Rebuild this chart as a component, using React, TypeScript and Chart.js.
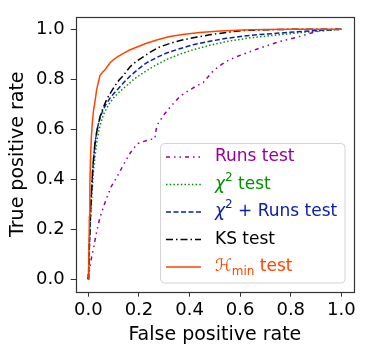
import React, { useEffect, useRef } from 'react';
import { Chart, registerables } from 'chart.js';

Chart.register(...registerables);

// ---- data ----
const AXIS_TICKS = [0, 0.2, 0.4, 0.6, 0.8, 1.0];
const X_TITLE = 'False positive rate';
const Y_TITLE = 'True positive rate';

const RUNS_FPR = [0, 0.003, 0.007, 0.013, 0.02, 0.026, 0.035, 0.046, 0.06, 0.073, 0.09, 0.118, 0.14, 0.165, 0.18, 0.197, 0.215, 0.237, 0.263, 0.268, 0.275, 0.3, 0.329, 0.36, 0.395, 0.425, 0.454, 0.493, 0.52, 0.546, 0.585, 0.625, 0.67, 0.717, 0.76, 0.809, 0.85, 0.901, 0.95, 1.0];
const RUNS_TPR = [0, 0.03, 0.05, 0.089, 0.12, 0.155, 0.2, 0.247, 0.29, 0.326, 0.37, 0.418, 0.46, 0.504, 0.525, 0.543, 0.55, 0.557, 0.563, 0.6, 0.622, 0.66, 0.695, 0.73, 0.754, 0.772, 0.787, 0.833, 0.855, 0.872, 0.89, 0.905, 0.922, 0.938, 0.952, 0.964, 0.976, 0.991, 0.997, 1.0];

const CHI_FPR = [0, 0.003, 0.006, 0.01, 0.015, 0.02, 0.026, 0.035, 0.046, 0.06, 0.08, 0.099, 0.125, 0.151, 0.18, 0.217, 0.26, 0.309, 0.36, 0.414, 0.48, 0.546, 0.64, 0.744, 0.85, 0.93, 1.0];
const CHI_TPR = [0, 0.09, 0.18, 0.27, 0.35, 0.43, 0.49, 0.56, 0.615, 0.66, 0.698, 0.725, 0.752, 0.774, 0.8, 0.826, 0.853, 0.879, 0.9, 0.918, 0.936, 0.951, 0.966, 0.977, 0.988, 0.995, 1.0];

const CHIRUNS_FPR = [0, 0.003, 0.006, 0.01, 0.014, 0.018, 0.023, 0.03, 0.04, 0.055, 0.07, 0.086, 0.1, 0.118, 0.14, 0.165, 0.2, 0.23, 0.27, 0.309, 0.36, 0.414, 0.48, 0.546, 0.64, 0.744, 0.85, 0.93, 1.0];
const CHIRUNS_TPR = [0, 0.1, 0.2, 0.3, 0.38, 0.45, 0.51, 0.57, 0.625, 0.67, 0.7, 0.725, 0.742, 0.762, 0.787, 0.813, 0.843, 0.866, 0.887, 0.905, 0.922, 0.938, 0.952, 0.964, 0.976, 0.984, 0.992, 0.997, 1.0];

const KS_FPR = [0, 0.003, 0.006, 0.01, 0.014, 0.018, 0.022, 0.027, 0.033, 0.046, 0.06, 0.073, 0.09, 0.105, 0.12, 0.138, 0.165, 0.19, 0.217, 0.25, 0.283, 0.33, 0.375, 0.43, 0.48, 0.55, 0.61, 0.7, 0.8, 0.9, 1.0];
const KS_TPR = [0, 0.1, 0.2, 0.3, 0.38, 0.45, 0.5, 0.55, 0.59, 0.65, 0.69, 0.72, 0.75, 0.774, 0.795, 0.815, 0.85, 0.872, 0.89, 0.912, 0.93, 0.946, 0.958, 0.969, 0.978, 0.988, 0.995, 0.998, 1.0, 1.0, 1.0];

const HMIN_FPR = [0, 0.002, 0.004, 0.006, 0.009, 0.012, 0.016, 0.021, 0.026, 0.033, 0.04, 0.046, 0.056, 0.066, 0.086, 0.1, 0.118, 0.14, 0.165, 0.2, 0.23, 0.27, 0.322, 0.38, 0.44, 0.52, 0.61, 0.7, 0.8, 0.9, 1.0];
const HMIN_TPR = [0, 0.1, 0.25, 0.38, 0.5, 0.57, 0.63, 0.68, 0.71, 0.76, 0.79, 0.815, 0.828, 0.838, 0.866, 0.879, 0.892, 0.905, 0.918, 0.932, 0.944, 0.957, 0.971, 0.98, 0.987, 0.993, 0.997, 0.999, 1.0, 1.0, 1.0];

const SERIES_LABELS = ['Runs test', 'χ2 test', 'χ2 + Runs test', 'KS test', 'ℋmin test'];

type Seg = { t: string; italic?: boolean; sup?: boolean; sub?: boolean };
const LEGEND_TEXT: Seg[][] = [
  [{ t: 'Runs test' }],
  [{ t: 'χ', italic: true }, { t: '2', sup: true }, { t: ' test' }],
  [{ t: 'χ', italic: true }, { t: '2', sup: true }, { t: ' + Runs test' }],
  [{ t: 'KS test' }],
  [{ t: 'ℋ' }, { t: 'min', sub: true }, { t: ' test' }],
];

// ---- styles ----
const COLORS = ['#990099', '#009000', '#0a22a8', '#000000', '#ff4500'];
const DASHES = [[4, 4, 1.5, 4, 1.5, 4], [1.5, 2.2], [5, 2.5], [7, 3, 1.5, 3], []];
const FONT = '"DejaVu Sans", sans-serif';

const zip = (xs: number[], ys: number[]) => xs.map((x, i) => ({ x, y: ys[i] }));
const SERIES = [
  zip(RUNS_FPR, RUNS_TPR),
  zip(CHI_FPR, CHI_TPR),
  zip(CHIRUNS_FPR, CHIRUNS_TPR),
  zip(KS_FPR, KS_TPR),
  zip(HMIN_FPR, HMIN_TPR),
];

const framePlugin = {
  id: 'frame',
  afterDatasetsDraw(chart: any) {
    const { ctx, chartArea: a } = chart;
    ctx.save();
    ctx.strokeStyle = '#333';
    ctx.lineWidth = 1.2;
    ctx.setLineDash([]);
    ctx.strokeRect(Math.round(a.left) + 0.5, Math.round(a.top) + 0.5, Math.round(a.right - a.left), Math.round(a.bottom - a.top));
    ctx.restore();
  },
};

const legendPlugin = {
  id: 'insideLegend',
  afterDraw(chart: any) {
    const ctx = chart.ctx;
    const x0 = 160.5, y0 = 143.5, x1 = 345, y1 = 283;
    ctx.save();
    ctx.beginPath();
    (ctx as any).roundRect(x0, y0, x1 - x0, y1 - y0, 4);
    ctx.fillStyle = 'rgba(255,255,255,0.85)';
    ctx.fill();
    ctx.strokeStyle = '#d4d4d4';
    ctx.lineWidth = 1;
    ctx.stroke();
    LEGEND_TEXT.forEach((segs, i) => {
      const y = 157 + i * 27.5;
      ctx.beginPath();
      ctx.setLineDash(DASHES[i]);
      ctx.strokeStyle = COLORS[i];
      ctx.lineWidth = 1.5;
      ctx.moveTo(166, y);
      ctx.lineTo(201, y);
      ctx.stroke();
      ctx.setLineDash([]);
      ctx.fillStyle = COLORS[i];
      ctx.textBaseline = 'middle';
      ctx.textAlign = 'left';
      let x = 215;
      segs.forEach((s) => {
        const size = s.sup || s.sub ? 12 : 17;
        ctx.font = `${s.italic ? 'italic ' : ''}${size}px ${FONT}`;
        const dy = s.sup ? -7 : s.sub ? 5 : 0;
        ctx.fillText(s.t, x, y + dy);
        x += ctx.measureText(s.t).width;
      });
    });
    ctx.restore();
  },
};

const axisCommon = (title: string, isX: boolean) => ({
  type: 'linear' as const,
  min: -0.05,
  max: 1.05,
  afterBuildTicks: (scale: any) => {
    scale.ticks = AXIS_TICKS.map((v) => ({ value: v }));
  },
  afterFit: (scale: any) => {
    if (isX) scale.height = 63.3;
    else scale.width = 75.7;
  },
  grid: {
    drawOnChartArea: false,
    drawTicks: true,
    tickLength: 5,
    color: '#333',
    lineWidth: 1,
  },
  border: { display: false },
  ticks: {
    color: '#000',
    font: { family: FONT, size: 18 },
    padding: isX ? 3 : 6,
    maxRotation: 0,
    autoSkip: false,
    callback: (v: any) => Number(v).toFixed(1),
  },
  title: {
    display: true,
    text: title,
    color: '#000',
    font: { family: FONT, size: 19 },
    padding: isX ? { top: 0, bottom: 9 } : { top: 7, bottom: 0 },
  },
});

export default function App() {
  const ref = useRef<HTMLCanvasElement>(null);
  useEffect(() => {
    document.body.style.margin = '0';
    const chart = new Chart(ref.current!, {
      type: 'line',
      data: {
        datasets: SERIES.map((d, i) => ({
          label: SERIES_LABELS[i],
          data: d,
          borderColor: COLORS[i],
          backgroundColor: COLORS[i],
          borderDash: DASHES[i],
          borderWidth: 1.5,
          pointRadius: 0,
          fill: false,
          tension: 0,
          order: 4 - i,
        })),
      },
      options: {
        responsive: false,
        animation: false,
        layout: { padding: { left: 0, top: 14, right: 14, bottom: 0 } },
        plugins: { legend: { display: false }, tooltip: { enabled: false } },
        scales: {
          x: axisCommon(X_TITLE, true),
          y: axisCommon(Y_TITLE, false),
        },
      },
      plugins: [framePlugin, legendPlugin],
    });
    return () => chart.destroy();
  }, []);
  return (
    <div style={{ width: 368, height: 355 }}>
      <canvas ref={ref} width={368} height={355} style={{ display: 'block' }} />
    </div>
  );
}
